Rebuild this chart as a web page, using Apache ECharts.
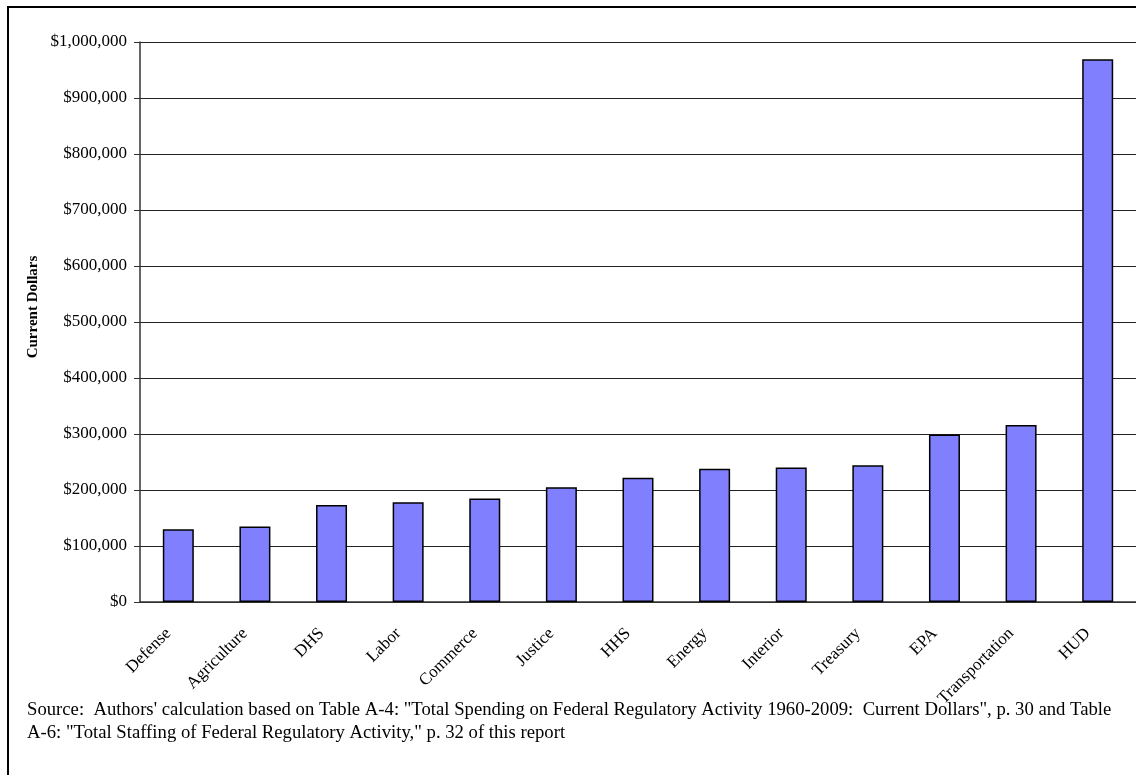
<!DOCTYPE html>
<html>
<head>
<meta charset="utf-8">
<script src="https://cdn.jsdelivr.net/npm/echarts@6/dist/echarts.min.js"></script>
<style>
  html, body { margin: 0; padding: 0; background: #fff; }
  #chart { width: 1136px; height: 775px; }
</style>
</head>
<body>
<div id="chart"></div>
<script>
// departments, sorted by spending
const departments = ['Defense', 'Agriculture', 'DHS', 'Labor', 'Commerce', 'Justice', 'HHS',
  'Energy', 'Interior', 'Treasury', 'EPA', 'Transportation', 'HUD'];
const dollars = [130000, 135000, 173000, 178000, 185000, 205000, 222000,
  238000, 240000, 244000, 299000, 316000, 969000];
const yTicks = [0, 1000000, 100000]; // min, max, step

const sourceNote = [
  'Source:  Authors\' calculation based on Table A-4: "Total Spending on Federal Regulatory Activity 1960-2009:  Current Dollars", p. 30 and Table',
  'A-6: "Total Staffing of Federal Regulatory Activity," p. 32 of this report'
];

const serif = '"Liberation Serif", "Times New Roman", serif';

function money(v) {
  return '$' + v.toString().replace(/\B(?=(\d{3})+(?!\d))/g, ',');
}

const myChart = echarts.init(document.getElementById('chart'));

const option = {
  animation: false,
  textStyle: { fontFamily: serif },
  grid: { left: 140, top: 42, width: 1000, height: 560 },
  xAxis: {
    type: 'category',
    data: departments,
    axisLine: { lineStyle: { color: '#333', width: 1.5 } },
    axisTick: { length: 5, lineStyle: { color: '#333' } },
    // right padding nudges the slanted labels a little left of the bar centre
    axisLabel: {
      rotate: 45, margin: 19, padding: [0, 14, 0, 0], fontSize: 17,
      color: '#000', fontFamily: serif, interval: 0
    }
  },
  yAxis: {
    type: 'value',
    min: yTicks[0],
    max: yTicks[1],
    interval: yTicks[2],
    axisLine: { show: true, lineStyle: { color: '#333', width: 1.5 } },
    axisTick: { show: true, length: 6, lineStyle: { color: '#333' } },
    axisLabel: { margin: 13, fontSize: 17, color: '#000', fontFamily: serif, formatter: money },
    splitLine: { lineStyle: { color: '#222', width: 1.2 } }
  },
  series: [
    {
      type: 'bar',
      data: dollars,
      barWidth: 31,
      itemStyle: { color: '#8080FF', borderColor: '#000', borderWidth: 1.5 }
    }
  ],
  graphic: [
    {
      type: 'rect',
      shape: { x: 8, y: 7, width: 1300, height: 1000 },
      style: { fill: 'none', stroke: '#000', lineWidth: 2 },
      silent: true
    },
    {
      // y axis title, sits a bit above the middle of the plot like the original
      type: 'text',
      x: 33,
      y: 307,
      rotation: Math.PI / 2,
      style: {
        text: 'Current Dollars',
        font: 'bold 15px ' + serif,
        fill: '#000',
        align: 'center',
        verticalAlign: 'middle'
      }
    },
    {
      type: 'text',
      left: 27,
      top: 699,
      style: { text: sourceNote.join('\n'), font: '18.7px ' + serif, lineHeight: 23, fill: '#000' }
    }
  ]
};

myChart.setOption(option);
</script>
</body>
</html>
